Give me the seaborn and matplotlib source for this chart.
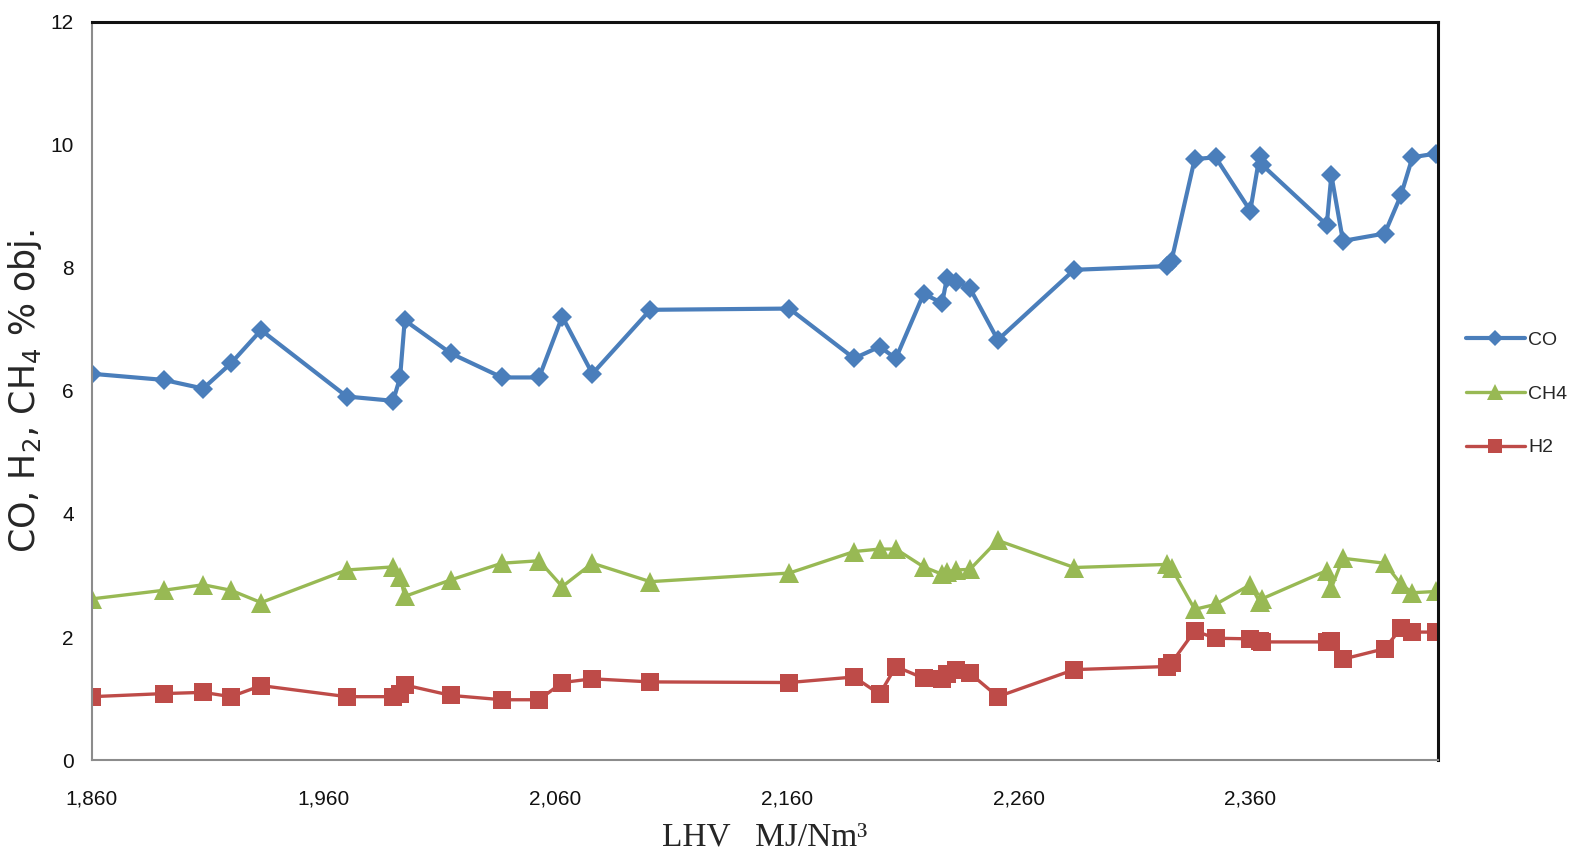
import pandas as pd
import numpy as np
import matplotlib
matplotlib.use("Agg")
import matplotlib.pyplot as plt
import seaborn as sns

# LHV values (x) shared by the three series
lhv = [1860, 1891, 1908, 1920, 1933, 1970, 1990, 1993, 1995, 2015,
       2037, 2053, 2063, 2076, 2101, 2161, 2189, 2200, 2207, 2219,
       2227, 2229, 2233, 2239, 2251, 2284, 2324, 2326, 2336, 2345,
       2360, 2364, 2365, 2393, 2395, 2400, 2418, 2425, 2430, 2440]

co = [6.28, 6.18, 6.04, 6.45, 6.99, 5.91, 5.84, 6.22, 7.15, 6.61,
      6.22, 6.22, 7.21, 6.28, 7.32, 7.34, 6.53, 6.72, 6.53, 7.58,
      7.43, 7.83, 7.78, 7.67, 6.83, 7.97, 8.03, 8.12, 9.77, 9.80,
      8.93, 9.82, 9.68, 8.70, 9.51, 8.44, 8.56, 9.18, 9.80, 9.86]

ch4 = [2.62, 2.76, 2.85, 2.76, 2.56, 3.09, 3.14, 2.98, 2.66, 2.93,
       3.20, 3.24, 2.82, 3.20, 2.90, 3.04, 3.39, 3.43, 3.43, 3.14,
       3.02, 3.06, 3.09, 3.10, 3.57, 3.13, 3.18, 3.12, 2.45, 2.53,
       2.85, 2.57, 2.62, 3.08, 2.80, 3.28, 3.20, 2.86, 2.72, 2.74]

h2 = [1.03, 1.08, 1.10, 1.03, 1.21, 1.03, 1.03, 1.08, 1.22, 1.05,
      0.98, 0.98, 1.26, 1.32, 1.27, 1.26, 1.35, 1.07, 1.52, 1.33,
      1.32, 1.40, 1.46, 1.41, 1.03, 1.47, 1.52, 1.58, 2.10, 1.98,
      1.97, 1.94, 1.92, 1.92, 1.93, 1.64, 1.81, 2.14, 2.08, 2.08]

x_ticks = [1860, 1960, 2060, 2160, 2260, 2360]
y_ticks = [0, 2, 4, 6, 8, 10, 12]

sns.set_style("white")
plt.rcParams['font.family'] = ['Liberation Sans', 'DejaVu Sans']

fig = plt.figure(figsize=(15.91, 8.58), dpi=100)
ax = fig.add_axes([0.0578, 0.1142, 0.8460, 0.8602])

sns.lineplot(x=lhv, y=co, ax=ax, color="#4A7EBB", linewidth=3.0, marker="D",
             markersize=10, markeredgewidth=0, sort=False, label="CO")
sns.lineplot(x=lhv, y=ch4, ax=ax, color="#98B954", linewidth=2.4, marker="^",
             markersize=14, markeredgewidth=0, sort=False, label="CH4")
sns.lineplot(x=lhv, y=h2, ax=ax, color="#BE4B48", linewidth=2.4, marker="s",
             markersize=13, markeredgewidth=0, sort=False, label="H2")

ax.set_xlim(1860, 2441)
ax.set_ylim(0, 12)
ax.set_xticks(x_ticks)
ax.set_xticklabels([f"{v:,}" for v in x_ticks])
ax.set_yticks(y_ticks)
ax.tick_params(axis="both", direction="out", length=7, width=1.2, color="#808080",
               labelsize=15, labelcolor="#111111", pad=6)
ax.tick_params(axis="x", pad=14)

for side in ["left", "bottom"]:
    ax.spines[side].set_color("#8c8c8c")
    ax.spines[side].set_linewidth(1.5)
for side in ["top", "right"]:
    ax.spines[side].set_color("#111111")
    ax.spines[side].set_linewidth(2.2)

ax.set_xlabel("LHV   MJ/Nm³", fontsize=24, family=["Liberation Serif", "DejaVu Serif"],
              labelpad=10)
ax.set_ylabel("CO, H$_2$, CH$_4$ % obj.", fontsize=25, family=["DejaVu Sans"],
              labelpad=5)

ax.legend(loc="center left", bbox_to_anchor=(1.008, 0.496), frameon=False,
          fontsize=14, handlelength=3.0, handletextpad=0.2, labelspacing=1.85,
          markerscale=0.8)

fig.savefig("out.png", dpi=100)
